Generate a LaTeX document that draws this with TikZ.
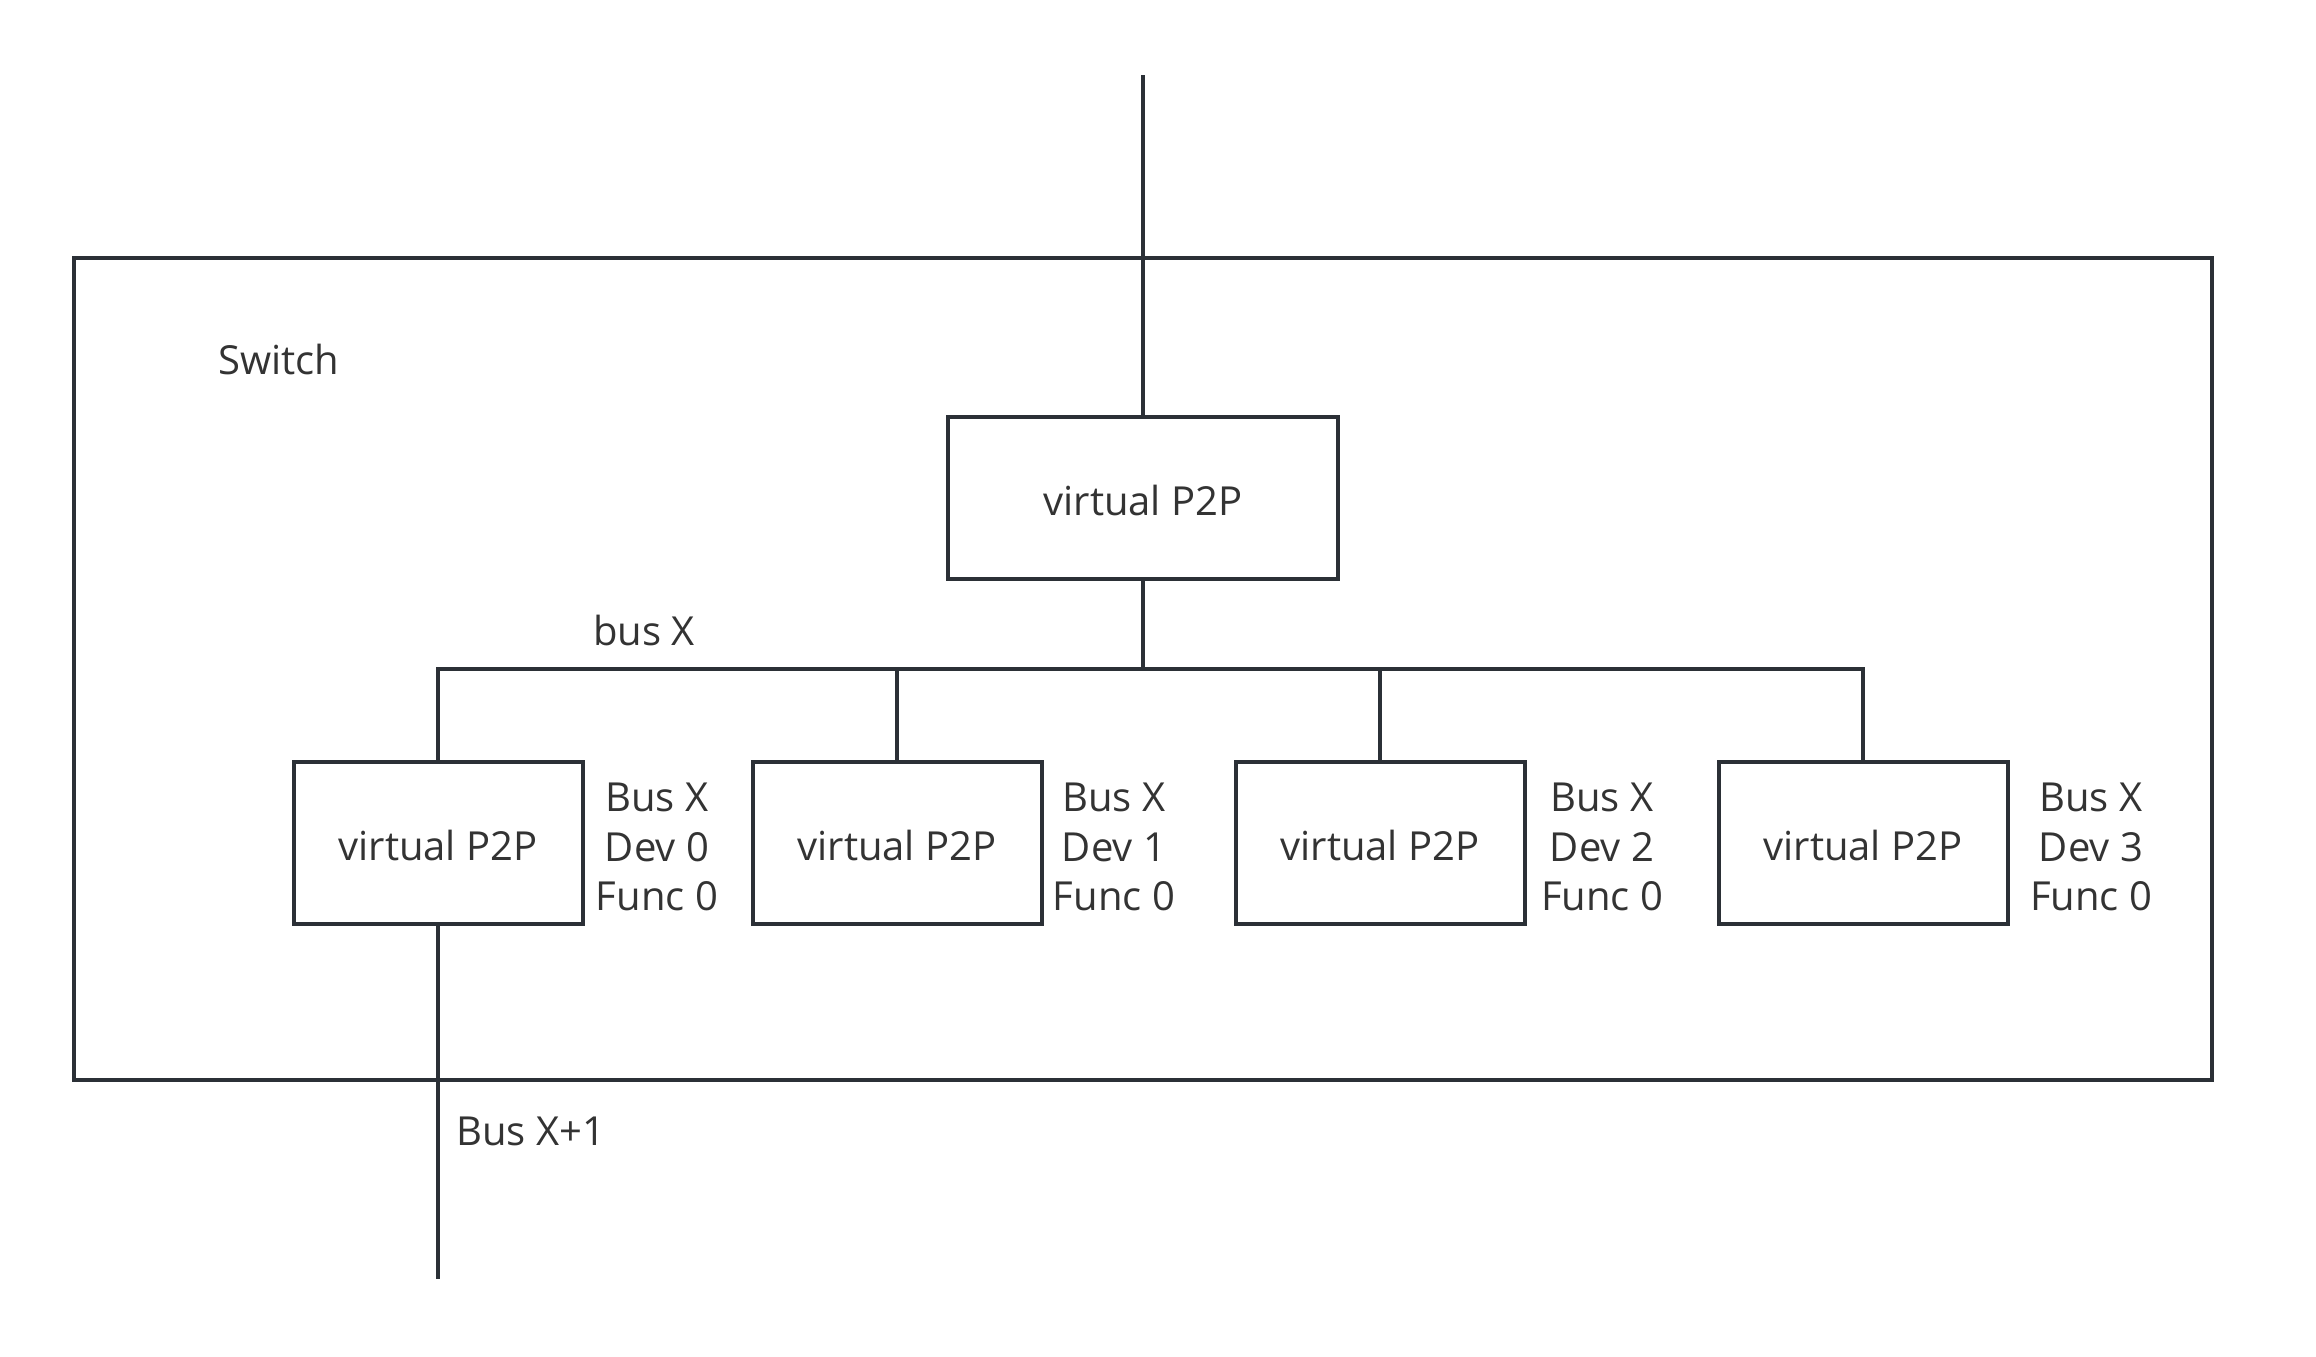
\documentclass[tikz,border=0pt]{standalone}
\usepackage{fontspec}
\setmainfont{Open Sans}
\definecolor{linec}{HTML}{2B3036}
\definecolor{textc}{HTML}{333333}
\begin{document}
\begin{tikzpicture}[x=0.5pt,y=-0.5pt,
  every node/.style={font=\fontsize{20pt}{24.75pt}\selectfont, text=textc},
  conn/.style={draw=linec, line width=2pt},
  p2p/.style={draw=linec, line width=2pt, minimum width=144.5pt, minimum height=81pt, inner sep=0pt, text height=17pt, text depth=0pt},
  toppp/.style={p2p, minimum width=195pt},
  lbl/.style={inner sep=0pt, anchor=base west},
  devlbl/.style={inner sep=0pt, anchor=north, align=center}]
\useasboundingbox (0,0) rectangle (2316,1356);
\node[draw=linec, line width=2pt, minimum width=1069.25pt, minimum height=411pt, inner sep=0pt] (sw) at (1142.75,669) {};
\node[lbl] (swl) at (218,374) {Switch};
\node[toppp] (top) at (1143,498) {virtual P2P};
\node[p2p] (c1) at (438,843) {virtual P2P};
\node[p2p] (c2) at (897,843) {virtual P2P};
\node[p2p] (c3) at (1380,843) {virtual P2P};
\node[p2p] (c4) at (1863,843) {virtual P2P};
\node[devlbl] (d1) at (657,783) {Bus X\\Dev 0\\Func 0};
\node[devlbl] (d2) at (1114,783) {Bus X\\Dev 1\\Func 0};
\node[devlbl] (d3) at (1602,783) {Bus X\\Dev 2\\Func 0};
\node[devlbl] (d4) at (2091,783) {Bus X\\Dev 3\\Func 0};
\node[lbl] (busx) at (593,645) {bus X};
\node[lbl] (busx1) at (456,1145) {Bus X+1};
\coordinate (upend) at (1143,75);
\coordinate (br) at (1863,669);
\coordinate (downend) at (438,1279);
\draw[conn] (upend) -- (top.north);
\draw[conn] (top.south) -- (top.south |- br);
\draw[conn] (c1.north) |- (br) -- (c4.north);
\draw[conn] (c2.north) -- (c2.north |- br);
\draw[conn] (c3.north) -- (c3.north |- br);
\draw[conn] (c1.south) -- (downend);
\end{tikzpicture}
\end{document}
